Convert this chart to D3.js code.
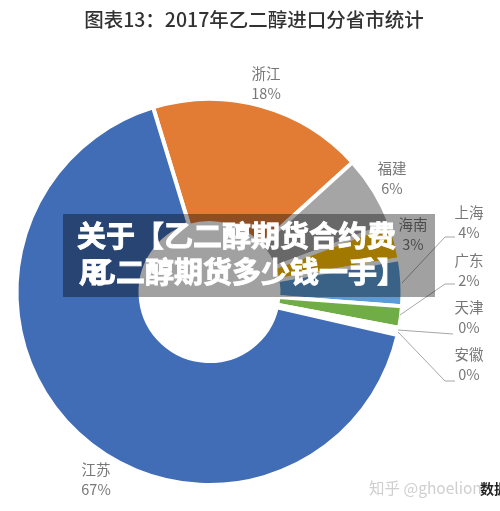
<!DOCTYPE html>
<html>
<head>
<meta charset="utf-8">
<script src="https://cdn.jsdelivr.net/npm/d3@7"></script>
<style>
html, body { margin: 0; padding: 0; background: #fff; }
svg { display: block; }
text { font-family: "Noto Sans CJK SC", "Noto Sans", sans-serif; }
</style>
</head>
<body>
<svg class="plot" width="500" height="511"></svg>
<script>
var provinces = ["浙江", "福建", "海南", "上海", "广东", "天津", "安徽", "江苏"];
var shares = [18, 6, 3, 3.9, 1.8, 0.3, 0.3, 66.7];
var shareLabels = ["18%", "6%", "3%", "4%", "2%", "0%", "0%", "67%"];
var sliceColors = ["#e27c35", "#a5a5a5", "#ffc000", "#5b9bd5", "#70ad47", "#ffffff", "#ffffff", "#3f6db5"];

var svg = d3.select(".plot");

// slight blur, the source picture is a soft screenshot
var defs = svg.append("defs");
defs.append("filter").attr("id", "soft")
    .append("feGaussianBlur").attr("stdDeviation", 0.5);

var chart = svg.append("g").attr("filter", "url(#soft)");

chart.append("text")
    .attr("x", 254)
    .attr("y", 27)
    .attr("text-anchor", "middle")
    .attr("fill", "#333")
    .style("font-size", "19.5px")
    .style("font-weight", 500)
    .text("图表13：2017年乙二醇进口分省市统计");

//donut
var pie = d3.pie().sort(null)
    .startAngle(-17 * Math.PI / 180)
    .endAngle(343 * Math.PI / 180);
var arc = d3.arc().innerRadius(69).outerRadius(193);

chart.append("g")
    .attr("transform", "translate(209.5,292)")
    .selectAll("path")
    .data(pie(shares))
    .enter()
    .append("path")
    .attr("d", arc)
    .attr("fill", function(d, i) { return sliceColors[i]; })
    .attr("stroke", "#fff")
    .attr("stroke-width", 4);

//label spots, same order as provinces
var labelX = [266, 392, 413, 469, 469, 469, 469, 96];
var labelY = [79, 174, 230, 218, 266, 313, 360, 475];

var labels = chart.selectAll(".slice-label")
    .data(provinces)
    .enter()
    .append("g")
    .attr("class", "slice-label")
    .attr("transform", function(d, i) { return "translate(" + labelX[i] + "," + labelY[i] + ")"; })
    .attr("text-anchor", "middle")
    .attr("fill", "#777")
    .style("font-size", "14.5px");

labels.append("text").text(function(d) { return d; });
labels.append("text")
    .attr("y", 20)
    .text(function(d, i) { return shareLabels[i]; });

//leader lines
var leaders = [
    [[402, 283], [445, 237], [455, 237]],
    [[400, 315], [445, 284], [455, 284]],
    [[398, 330], [453, 334]],
    [[398, 332], [445, 381], [455, 381]]
];

chart.selectAll(".leader")
    .data(leaders)
    .enter()
    .append("path")
    .attr("class", "leader")
    .attr("d", d3.line())
    .attr("fill", "none")
    .attr("stroke", "#a6a6a6")
    .attr("stroke-width", 1);

//watermark
chart.append("text")
    .attr("x", 369)
    .attr("y", 494)
    .attr("fill", "#cfcfcf")
    .style("font-size", "15.5px")
    .text("知乎 @ghoelion");

chart.append("text")
    .attr("x", 480)
    .attr("y", 494)
    .attr("fill", "#222")
    .style("font-size", "14px")
    .style("font-weight", 700)
    .text("数据");

//headline banner over the chart
svg.append("rect")
    .attr("x", 63)
    .attr("y", 214)
    .attr("width", 372)
    .attr("height", 83)
    .attr("fill", "#000")
    .attr("fill-opacity", 0.37);

var headline = svg.append("g")
    .attr("fill", "#fff")
    .attr("stroke", "#fff")
    .attr("stroke-width", 0.9)
    .style("font-size", "29px")
    .style("font-weight", 700);

headline.append("text").attr("x", 77).attr("y", 247).text("关于【乙二醇期货合约费");
headline.append("text").attr("x", 79).attr("y", 283).text("用");
headline.append("text").attr("x", 87).attr("y", 283).text("乙二醇期货多少钱一手】");
</script>
</body>
</html>
